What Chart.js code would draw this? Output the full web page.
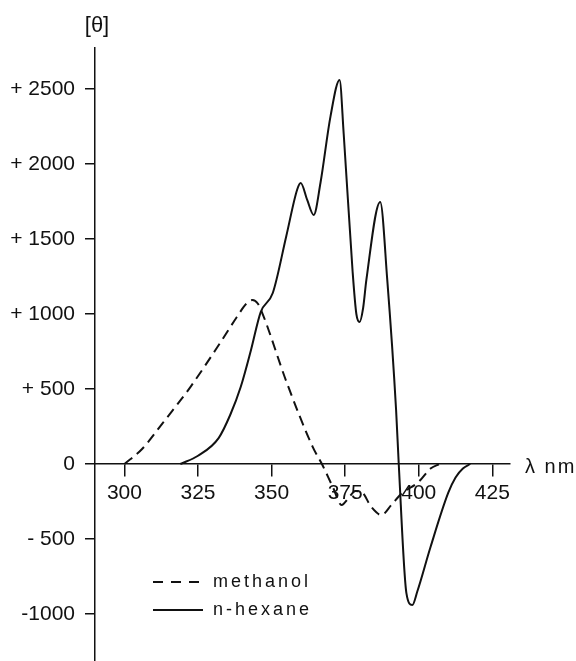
<!DOCTYPE html>
<html>
<head>
<meta charset="utf-8">
<script src="https://cdn.jsdelivr.net/npm/chart.js@4.4.1/dist/chart.umd.min.js"></script>
<style>
  html, body { margin: 0; padding: 0; background: #fff; }
</style>
</head>
<body>
<canvas id="cdChart" width="576" height="661"></canvas>
<script>
// wavelength (nm) / molar ellipticity readings
const methanolNm = [300, 306, 313, 322.4, 332.5, 338.2, 341.5, 343.5, 345.3, 346.7, 355.2, 364, 367.1, 370.8, 373.8, 376, 378.5, 380.5, 383.9, 387.3, 390.7, 394, 399.9, 404, 407];
const methanolTheta = [0, 100, 273, 513, 807, 980, 1070, 1093, 1070, 1013, 540, 113, 0, -153, -273, -230, -180, -185, -287, -340, -273, -200, -120, -30, 0];

const hexaneNm = [319, 325, 332, 336, 339.5, 343, 346.3, 350.4, 355, 358.7, 359.9, 362.1, 364.3, 366.6, 370, 373.1, 374.5, 377.5, 378.8, 379.9, 381.1, 382.2, 386.9, 389.3, 392.3, 393.2, 395.8, 397.8, 399.5, 404, 410, 412.5, 415, 417.5];
const hexaneTheta = [0, 55, 173, 330, 513, 760, 1013, 1140, 1520, 1830, 1873, 1760, 1660, 1873, 2316, 2560, 2200, 1290, 1000, 947, 1040, 1227, 1747, 1227, 360, 0, -860, -940, -850, -553, -193, -90, -30, 0];

const xTickValues = [300, 325, 350, 375, 400, 425];
const yTickValues = [-1000, -500, 0, 500, 1000, 1500, 2000, 2500];
const yTickLabels = ["-1000", "- 500", "0", "+ 500", "+ 1000", "+ 1500", "+ 2000", "+ 2500"];

const INK = "#111";
const FONT = "'Liberation Sans', Arial, sans-serif";

const toPoints = (xs, ys) => xs.map((x, i) => ({ x: x, y: ys[i] }));

// axis label, y-axis heading and the hand-drawn style legend
const decor = {
    id: "decor",
    afterDraw(chart) {
        const { ctx, chartArea, scales } = chart;
        const zeroY = scales.y.getPixelForValue(0);
        ctx.save();
        ctx.fillStyle = INK;
        ctx.textBaseline = "middle";

        ctx.font = "22px " + FONT;
        ctx.textAlign = "center";
        ctx.fillText("[θ]", chartArea.left + 2, 26);

        ctx.textAlign = "left";
        ctx.font = "20px " + FONT;
        ctx.letterSpacing = "2px";
        ctx.fillText("λ nm", chartArea.right + 15, zeroY + 3);

        ctx.font = "18px " + FONT;
        ctx.letterSpacing = "3px";
        chart.data.datasets.forEach((ds, i) => {
            const rowY = 582 + i * 28;
            ctx.strokeStyle = ds.borderColor;
            ctx.lineWidth = ds.borderWidth;
            ctx.setLineDash(ds.borderDash ? [10, 8] : []);
            ctx.beginPath();
            ctx.moveTo(153, rowY);
            ctx.lineTo(203, rowY);
            ctx.stroke();
            ctx.fillText(ds.label, 213, rowY);
        });
        ctx.restore();
    },
};

new Chart(document.getElementById("cdChart"), {
    type: "line",
    data: {
        datasets: [
            {
                label: "methanol",
                data: toPoints(methanolNm, methanolTheta),
                borderColor: INK,
                borderWidth: 2,
                borderDash: [10, 6],
                pointRadius: 0,
                fill: false,
                cubicInterpolationMode: "monotone",
            },
            {
                label: "n-hexane",
                data: toPoints(hexaneNm, hexaneTheta),
                borderColor: INK,
                borderWidth: 2,
                pointRadius: 0,
                fill: false,
                cubicInterpolationMode: "monotone",
            },
        ],
    },
    options: {
        responsive: false,
        animation: false,
        layout: { padding: { left: 0, top: 48, right: 66, bottom: 0 } },
        plugins: { legend: { display: false }, tooltip: { enabled: false } },
        scales: {
            x: {
                type: "linear",
                position: { y: 0 },
                min: 290, max: 431,
                afterBuildTicks: s => { s.ticks = xTickValues.map(v => ({ value: v })); },
                afterFit: s => { s.paddingLeft = 0; s.paddingRight = 0; },
                grid: { drawOnChartArea: false, drawTicks: true, tickLength: 12, color: INK, lineWidth: 1.5 },
                border: { color: INK, width: 1.5 },
                ticks: { color: INK, font: { family: FONT, size: 21 }, padding: 5, maxRotation: 0, autoSkip: false },
            },
            y: {
                type: "linear",
                position: "left",
                min: -1313, max: 2773,
                afterBuildTicks: s => { s.ticks = yTickValues.map(v => ({ value: v })); },
                afterFit: s => { s.width = 95; s.paddingTop = 0; s.paddingBottom = 0; },
                grid: { drawOnChartArea: false, drawTicks: true, tickLength: 10, color: INK, lineWidth: 1.5 },
                border: { color: INK, width: 1.5 },
                ticks: {
                    color: INK,
                    font: { family: FONT, size: 21 },
                    padding: 10,
                    callback: v => yTickLabels[yTickValues.indexOf(v)],
                },
            },
        },
    },
    plugins: [decor],
});
</script>
</body>
</html>
